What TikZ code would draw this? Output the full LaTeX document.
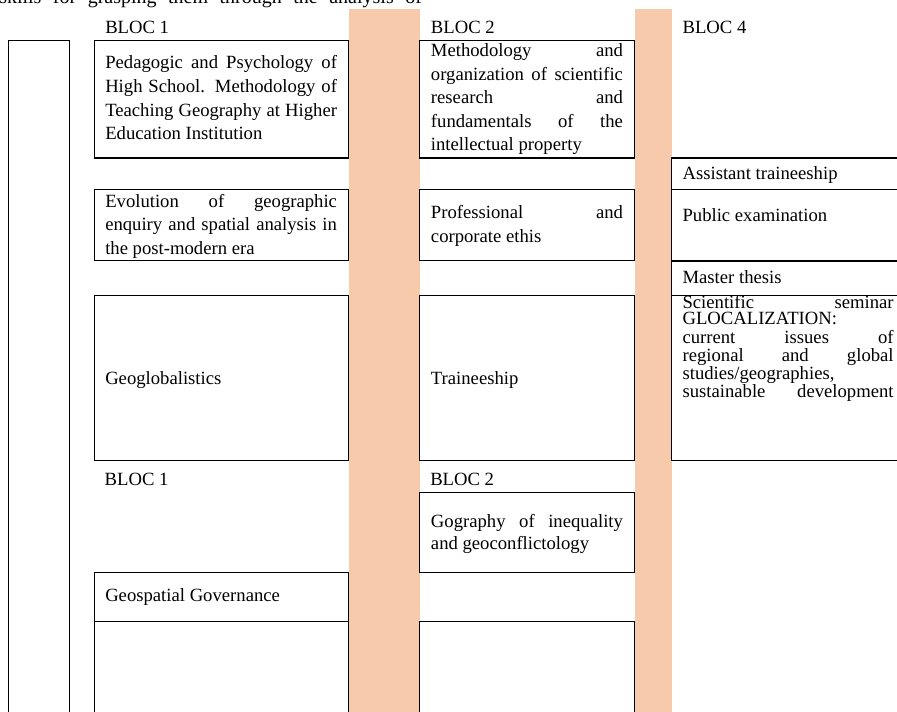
\documentclass[tikz,border=0pt]{standalone}
\usepackage{fontspec}
\setmainfont{Liberation Serif}
\definecolor{band}{HTML}{F7CAAC}
\newcommand{\jline}[1]{\makebox[\linewidth][s]{#1}}
\tikzset{
  box/.style={draw=black,line width=0.8pt},
  txt/.style={anchor=base west,inner sep=0pt,font=\fontsize{14}{17.7}\selectfont},
}
\begin{document}
\begin{tikzpicture}[x=0.75pt,y=-0.75pt]
\useasboundingbox (0,0) rectangle (897,712);
\clip (0,0) rectangle (897,712);
% orange bands
\fill[band] (348.7,9) rectangle (419.6,720);
\fill[band] (634.5,9) rectangle (671.6,720);
% left tall box
\draw[box] (8.5,40.5) rectangle (69.5,730);
% BLOC 1 column
\draw[box] (94.5,40.5) rectangle (348.7,158);
\draw[box] (94.5,189.3) rectangle (348.7,260.7);
\draw[box] (94.5,295.7) rectangle (348.7,460.3);
\draw[box] (94.5,572.3) rectangle (348.7,621.3);
\draw[box] (94.5,621.3) rectangle (348.7,730);
% BLOC 2 column
\draw[box] (419.3,40.5) rectangle (634.5,158);
\draw[box] (419.3,189.3) rectangle (634.5,260.7);
\draw[box] (419.3,295.7) rectangle (634.5,460.3);
\draw[box] (419.3,492.3) rectangle (634.5,572.3);
\draw[box] (419.3,621.3) rectangle (634.5,730);
% BLOC 4 column
\draw[box] (671.6,158) rectangle (910,189.3);
\draw[box] (671.6,189.3) rectangle (910,261);
\draw[box] (671.6,261) rectangle (910,295.7);
\draw[box] (671.6,295.7) rectangle (910,460.3);
% top running text
\node[txt,font=\fontsize{15}{18}\selectfont] (toptext) at (-1,4) {\makebox[317pt][s]{skills for grasping them through the analysis of}};
% headings
\node[txt] (b1a) at (105,33.3) {BLOC 1};
\node[txt] (b2a) at (430.7,33.3) {BLOC 2};
\node[txt] (b4a) at (682.3,33.3) {BLOC 4};
\node[txt] (b1b) at (104.4,485.7) {BLOC 1};
\node[txt] (b2b) at (430,485.7) {BLOC 2};
% BLOC 1 texts
\node[txt] (ped) at (105,68.8) {\parbox[t]{173.8pt}{\baselineskip=17.75pt
  \jline{Pedagogic and Psychology of}\\
  \jline{High School. Methodology of}\\
  \jline{Teaching Geography at Higher}\\
  Education Institution}};
\node[txt] (evo) at (105,207.3) {\parbox[t]{173.8pt}{\baselineskip=17.6pt
  \jline{Evolution of geographic}\\
  \jline{enquiry and spatial analysis in}\\
  the post-modern era}};
\node[txt] (geoglob) at (105,384.3) {Geoglobalistics};
\node[txt] (geosp) at (105,602) {Geospatial Governance};
% BLOC 2 texts
\node[txt] (meth) at (430.7,56.7) {\parbox[t]{144pt}{\baselineskip=17.6pt
  \jline{Methodology and}\\
  \jline{organization of scientific}\\
  \jline{research and}\\
  \jline{fundamentals of the}\\
  intellectual property}};
\node[txt] (prof) at (430.7,219) {\parbox[t]{144pt}{\baselineskip=17.4pt
  \jline{Professional and}\\
  corporate ethis}};
\node[txt] (train) at (430.7,384.3) {Traineeship};
\node[txt] (gogr) at (430.7,527.3) {\parbox[t]{144pt}{\baselineskip=17pt
  \jline{Gography of inequality}\\
  and geoconflictology}};
% BLOC 4 texts
\node[txt] (assist) at (682.3,180) {Assistant traineeship};
\node[txt] (publ) at (682.3,221.7) {Public examination};
\node[txt] (master) at (682.3,284) {Master thesis};
\node[txt] (semi) at (682.3,308.3) {\parbox[t]{158.3pt}{\baselineskip=13.35pt
  \jline{Scientific seminar}\\[-1.35pt]
  GLOCALIZATION:\\[1.4pt]
  \jline{current issues of}\\
  \jline{regional and global}\\
  studies/geographies,\\
  \jline{sustainable development}}};
\end{tikzpicture}
\end{document}
